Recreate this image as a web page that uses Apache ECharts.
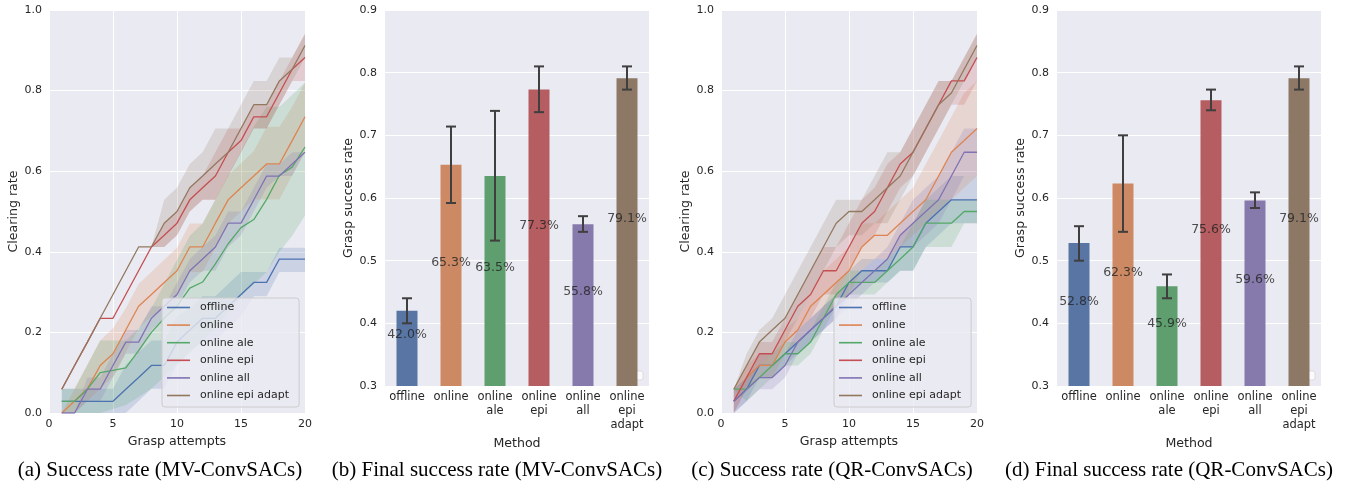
<!DOCTYPE html>
<html>
<head>
<meta charset="utf-8">
<script src="https://cdn.jsdelivr.net/npm/echarts@6/dist/echarts.min.js"></script>
<style>
html, body { margin: 0; padding: 0; background: #fff; }
#main { width: 1351px; height: 487px; }
</style>
</head>
<body>
<div id="main"></div>
<script>
// ---- data ----
var methods = ['offline', 'online', 'online ale', 'online epi', 'online all', 'online epi adapt'];
var barTicks = ['offline', 'online', 'online\nale', 'online\nepi', 'online\nall', 'online\nepi\nadapt'];
var attempts = [1, 2, 3, 4, 5, 6, 7, 8, 9, 10, 11, 12, 13, 14, 15, 16, 17, 18, 19, 20];
var captions = ['(a) Success rate (MV-ConvSACs)', '(b) Final success rate (MV-ConvSACs)',
                '(c) Success rate (QR-ConvSACs)', '(d) Final success rate (QR-ConvSACs)'];

// (a) MV-ConvSACs clearing rate: mean, lower and upper band per method
var mvMean = [
    [0.029, 0.029, 0.029, 0.029, 0.029, 0.059, 0.088, 0.118, 0.118, 0.176, 0.206, 0.235, 0.235, 0.265, 0.294, 0.324, 0.324, 0.382, 0.382, 0.382],
    [0.0, 0.03, 0.06, 0.118, 0.147, 0.206, 0.265, 0.294, 0.324, 0.353, 0.412, 0.412, 0.471, 0.529, 0.559, 0.588, 0.618, 0.618, 0.676, 0.735],
    [0.029, 0.029, 0.059, 0.1, 0.106, 0.112, 0.155, 0.2, 0.235, 0.265, 0.31, 0.325, 0.37, 0.42, 0.46, 0.48, 0.53, 0.59, 0.61, 0.66],
    [0.059, 0.118, 0.176, 0.235, 0.235, 0.294, 0.353, 0.412, 0.441, 0.471, 0.529, 0.559, 0.588, 0.647, 0.676, 0.735, 0.735, 0.794, 0.853, 0.882],
    [0.0, 0.0, 0.059, 0.059, 0.118, 0.176, 0.176, 0.235, 0.265, 0.294, 0.353, 0.382, 0.412, 0.471, 0.471, 0.529, 0.588, 0.588, 0.618, 0.647],
    [0.059, 0.118, 0.176, 0.235, 0.294, 0.353, 0.412, 0.412, 0.471, 0.5, 0.559, 0.588, 0.618, 0.647, 0.706, 0.765, 0.765, 0.824, 0.853, 0.912]
];
var mvLo = [
    [0.0, 0.0, 0.0, 0.0, 0.0, 0.0, 0.03, 0.06, 0.06, 0.12, 0.15, 0.18, 0.18, 0.21, 0.24, 0.29, 0.29, 0.35, 0.35, 0.35],
    [0.0, 0.0, 0.03, 0.06, 0.09, 0.15, 0.21, 0.24, 0.26, 0.29, 0.35, 0.35, 0.41, 0.47, 0.5, 0.53, 0.53, 0.53, 0.59, 0.65],
    [0.0, 0.0, 0.0, 0.0, 0.01, 0.02, 0.04, 0.06, 0.09, 0.12, 0.15, 0.18, 0.21, 0.25, 0.29, 0.32, 0.35, 0.4, 0.44, 0.49],
    [0.059, 0.118, 0.176, 0.235, 0.235, 0.294, 0.353, 0.412, 0.412, 0.441, 0.5, 0.529, 0.529, 0.588, 0.647, 0.706, 0.706, 0.765, 0.824, 0.824],
    [0.0, 0.0, 0.029, 0.029, 0.088, 0.147, 0.147, 0.206, 0.235, 0.265, 0.324, 0.353, 0.353, 0.412, 0.441, 0.5, 0.559, 0.588, 0.588, 0.647],
    [0.059, 0.118, 0.176, 0.235, 0.294, 0.353, 0.412, 0.412, 0.412, 0.441, 0.5, 0.529, 0.529, 0.588, 0.647, 0.706, 0.706, 0.765, 0.824, 0.882]
];
var mvHi = [
    [0.06, 0.06, 0.06, 0.06, 0.06, 0.12, 0.15, 0.18, 0.18, 0.24, 0.26, 0.29, 0.29, 0.32, 0.35, 0.35, 0.35, 0.41, 0.41, 0.41],
    [0.0, 0.06, 0.12, 0.18, 0.21, 0.26, 0.32, 0.35, 0.38, 0.41, 0.47, 0.47, 0.53, 0.59, 0.62, 0.65, 0.71, 0.71, 0.76, 0.82],
    [0.06, 0.06, 0.12, 0.18, 0.18, 0.18, 0.21, 0.26, 0.32, 0.38, 0.44, 0.47, 0.53, 0.59, 0.65, 0.71, 0.76, 0.76, 0.79, 0.82],
    [0.059, 0.118, 0.176, 0.235, 0.235, 0.294, 0.353, 0.412, 0.471, 0.5, 0.559, 0.588, 0.647, 0.706, 0.706, 0.765, 0.765, 0.824, 0.882, 0.941],
    [0.0, 0.0, 0.088, 0.088, 0.147, 0.206, 0.206, 0.265, 0.265, 0.324, 0.382, 0.412, 0.441, 0.5, 0.5, 0.559, 0.618, 0.618, 0.647, 0.647],
    [0.059, 0.118, 0.176, 0.235, 0.294, 0.353, 0.412, 0.412, 0.529, 0.559, 0.618, 0.647, 0.706, 0.706, 0.765, 0.824, 0.824, 0.882, 0.882, 0.941]
];

// (c) QR-ConvSACs clearing rate
var qrMean = [
    [0.029, 0.059, 0.118, 0.118, 0.147, 0.176, 0.206, 0.235, 0.265, 0.324, 0.353, 0.353, 0.353, 0.412, 0.412, 0.471, 0.5, 0.529, 0.529, 0.529],
    [0.029, 0.088, 0.118, 0.118, 0.176, 0.206, 0.265, 0.294, 0.324, 0.353, 0.412, 0.441, 0.441, 0.471, 0.5, 0.529, 0.588, 0.647, 0.676, 0.706],
    [0.059, 0.059, 0.088, 0.118, 0.147, 0.147, 0.176, 0.235, 0.294, 0.324, 0.324, 0.324, 0.353, 0.382, 0.412, 0.471, 0.471, 0.471, 0.5, 0.5],
    [0.029, 0.088, 0.147, 0.147, 0.206, 0.265, 0.294, 0.353, 0.353, 0.412, 0.471, 0.5, 0.559, 0.618, 0.647, 0.706, 0.765, 0.824, 0.824, 0.882],
    [0.029, 0.059, 0.088, 0.088, 0.118, 0.176, 0.206, 0.235, 0.265, 0.294, 0.324, 0.353, 0.382, 0.441, 0.471, 0.5, 0.529, 0.588, 0.647, 0.647],
    [0.059, 0.118, 0.176, 0.206, 0.235, 0.294, 0.353, 0.412, 0.471, 0.5, 0.5, 0.529, 0.559, 0.588, 0.647, 0.706, 0.765, 0.794, 0.853, 0.912]
];
var qrLo = [
    [0.0, 0.029, 0.088, 0.088, 0.118, 0.147, 0.176, 0.206, 0.235, 0.294, 0.324, 0.324, 0.324, 0.353, 0.353, 0.412, 0.441, 0.471, 0.471, 0.471],
    [0.0, 0.059, 0.088, 0.088, 0.147, 0.176, 0.206, 0.235, 0.265, 0.294, 0.353, 0.382, 0.382, 0.412, 0.441, 0.471, 0.5, 0.529, 0.559, 0.588],
    [0.059, 0.029, 0.059, 0.088, 0.118, 0.118, 0.147, 0.206, 0.265, 0.294, 0.294, 0.294, 0.324, 0.353, 0.353, 0.412, 0.412, 0.412, 0.471, 0.471],
    [0.0, 0.059, 0.118, 0.118, 0.176, 0.206, 0.235, 0.294, 0.294, 0.353, 0.412, 0.441, 0.5, 0.559, 0.588, 0.647, 0.706, 0.765, 0.765, 0.824],
    [0.0, 0.029, 0.059, 0.059, 0.088, 0.147, 0.176, 0.206, 0.235, 0.265, 0.294, 0.324, 0.353, 0.412, 0.412, 0.441, 0.471, 0.529, 0.588, 0.588],
    [0.059, 0.088, 0.118, 0.147, 0.176, 0.235, 0.294, 0.353, 0.412, 0.441, 0.441, 0.471, 0.471, 0.529, 0.588, 0.647, 0.706, 0.765, 0.824, 0.882]
];
var qrHi = [
    [0.059, 0.088, 0.147, 0.147, 0.176, 0.206, 0.235, 0.265, 0.294, 0.353, 0.382, 0.382, 0.382, 0.441, 0.471, 0.529, 0.559, 0.588, 0.588, 0.588],
    [0.059, 0.118, 0.147, 0.147, 0.206, 0.235, 0.294, 0.353, 0.382, 0.412, 0.471, 0.471, 0.5, 0.529, 0.559, 0.618, 0.676, 0.735, 0.794, 0.824],
    [0.059, 0.088, 0.118, 0.147, 0.176, 0.176, 0.206, 0.265, 0.324, 0.353, 0.353, 0.353, 0.382, 0.412, 0.471, 0.529, 0.529, 0.529, 0.529, 0.529],
    [0.059, 0.118, 0.176, 0.176, 0.235, 0.294, 0.353, 0.412, 0.412, 0.471, 0.529, 0.559, 0.618, 0.647, 0.706, 0.765, 0.824, 0.824, 0.882, 0.941],
    [0.059, 0.088, 0.118, 0.118, 0.147, 0.206, 0.235, 0.265, 0.294, 0.324, 0.353, 0.382, 0.412, 0.471, 0.529, 0.559, 0.588, 0.647, 0.706, 0.706],
    [0.059, 0.147, 0.206, 0.235, 0.294, 0.353, 0.412, 0.471, 0.529, 0.529, 0.529, 0.588, 0.647, 0.647, 0.706, 0.765, 0.824, 0.824, 0.882, 0.941]
];

// (b) MV-ConvSACs final grasp success rate
var mvFinal = [0.420, 0.653, 0.635, 0.773, 0.558, 0.791];
var mvErrLo = [0.400, 0.592, 0.532, 0.737, 0.546, 0.773];
var mvErrHi = [0.440, 0.714, 0.739, 0.810, 0.571, 0.810];
var mvLabelY = [0.381, 0.497, 0.488, 0.556, 0.450, 0.567];

// (d) QR-ConvSACs final grasp success rate
var qrFinal = [0.528, 0.623, 0.459, 0.756, 0.596, 0.791];
var qrErrLo = [0.500, 0.546, 0.440, 0.740, 0.584, 0.773];
var qrErrHi = [0.555, 0.700, 0.478, 0.773, 0.609, 0.810];
var qrLabelY = [0.435, 0.481, 0.400, 0.549, 0.469, 0.567];

// ---- styles ----
var lineColors = ['#4C72B0', '#DD8452', '#55A868', '#C44E52', '#8172B3', '#937860'];
var barColors = ['#5975A4', '#CC8963', '#5F9E6E', '#B55D60', '#857AAB', '#8D7866'];
var txt = '#262626';
var bg = '#EAEAF2';

var chart = echarts.init(document.getElementById('main'));

function lineAxisX(idx) {
    return {
        type: 'value', gridIndex: idx, min: 0, max: 20, interval: 5,
        name: 'Grasp attempts', nameLocation: 'middle', nameGap: 18,
        nameTextStyle: { color: txt, fontSize: 12.6 },
        axisLine: { show: false }, axisTick: { show: false },
        axisLabel: { color: txt, fontSize: 11, margin: 6 },
        splitLine: { show: true, lineStyle: { color: '#fff', width: 1 } }
    };
}
function lineAxisY(idx) {
    return {
        type: 'value', gridIndex: idx, min: 0, max: 1, interval: 0.2,
        name: 'Clearing rate', nameLocation: 'middle', nameGap: 29,
        nameTextStyle: { color: txt, fontSize: 12.6 },
        axisLine: { show: false }, axisTick: { show: false },
        axisLabel: { color: txt, fontSize: 11, margin: 7, formatter: function (v) { return v.toFixed(1); } },
        splitLine: { show: true, lineStyle: { color: '#fff', width: 1 } }
    };
}
function barAxisX(idx) {
    return {
        type: 'category', gridIndex: idx, data: barTicks,
        name: 'Method', nameLocation: 'middle', nameGap: 46,
        nameTextStyle: { color: txt, fontSize: 12.6 },
        axisLine: { show: false }, axisTick: { show: false },
        axisLabel: { color: txt, fontSize: 11.5, lineHeight: 14, margin: 4, interval: 0 },
        splitLine: { show: false }
    };
}
function barAxisY(idx) {
    return {
        type: 'value', gridIndex: idx, min: 0.3, max: 0.9, interval: 0.1,
        name: 'Grasp success rate', nameLocation: 'middle', nameGap: 29,
        nameTextStyle: { color: txt, fontSize: 12.6 },
        axisLine: { show: false }, axisTick: { show: false },
        axisLabel: { color: txt, fontSize: 11, margin: 8, formatter: function (v) { return v.toFixed(1); } },
        splitLine: { show: true, lineStyle: { color: '#fff', width: 1 } }
    };
}

// shaded band drawn as one polygon through the axis scales
function bandRenderer(lo, hi, color) {
    return function (params, api) {
        if (params.dataIndex !== 0) return null;
        var top = [], bot = [];
        for (var k = 0; k < attempts.length; k++) {
            top.push(api.coord([attempts[k], hi[k]]));
            bot.push(api.coord([attempts[k], lo[k]]));
        }
        return {
            type: 'polygon', shape: { points: top.concat(bot.reverse()) },
            style: { fill: color, opacity: 0.2 }
        };
    };
}

function lineSeries(idx, means, los, his) {
    var out = [];
    for (var i = 0; i < methods.length; i++) {
        var c = lineColors[i];
        out.push({
            type: 'custom', xAxisIndex: idx, yAxisIndex: idx, z: 2, silent: true, clip: true,
            data: attempts.map(function (x, j) { return [x, los[i][j], his[i][j]]; }),
            encode: { x: 0, y: [1, 2] },
            renderItem: bandRenderer(los[i], his[i], c),
            animation: false
        });
        out.push({
            type: 'line', name: methods[i], xAxisIndex: idx, yAxisIndex: idx,
            data: attempts.map(function (x, j) { return [x, means[i][j]]; }),
            symbol: 'none', lineStyle: { color: c, width: 1.3 }, itemStyle: { color: c },
            z: 3, animation: false
        });
    }
    return out;
}

function barSeries(idx, vals, errLo, errHi, labelY) {
    return [{
        type: 'bar', xAxisIndex: idx, yAxisIndex: idx, barWidth: 21,
        data: vals.map(function (v, i) { return { value: v, itemStyle: { color: barColors[i] } }; }),
        animation: false
    }, {
        type: 'custom', xAxisIndex: idx, yAxisIndex: idx, z: 5,
        data: vals.map(function (v, i) { return [i, errLo[i], errHi[i]]; }),
        encode: { x: 0, y: [1, 2] },
        renderItem: function (params, api) {
            var lo = api.coord([api.value(0), api.value(1)]);
            var hi = api.coord([api.value(0), api.value(2)]);
            var w = 5;
            var st = { stroke: '#3f3f3f', lineWidth: 2 };
            return {
                type: 'group', children: [
                    { type: 'line', shape: { x1: lo[0], y1: lo[1], x2: hi[0], y2: hi[1] }, style: st },
                    { type: 'line', shape: { x1: lo[0] - w, y1: lo[1], x2: lo[0] + w, y2: lo[1] }, style: st },
                    { type: 'line', shape: { x1: hi[0] - w, y1: hi[1], x2: hi[0] + w, y2: hi[1] }, style: st }
                ]
            };
        },
        animation: false
    }, {
        type: 'scatter', xAxisIndex: idx, yAxisIndex: idx, z: 6,
        symbolSize: 1, itemStyle: { color: 'rgba(0,0,0,0)' },
        data: labelY.map(function (y, i) { return [i, y]; }),
        label: {
            show: true, position: 'inside', color: '#222', fontSize: 12.5,
            formatter: function (p) { return (vals[p.dataIndex] * 100).toFixed(1) + '%'; }
        },
        animation: false
    }];
}

function legendFor(left) {
    return {
        orient: 'vertical', left: left, top: 298,
        data: methods.map(function (m) { return { name: m, icon: 'rect' }; }),
        itemWidth: 23, itemHeight: 1.6, itemGap: 4.6,
        textStyle: { color: txt, fontSize: 11, lineHeight: 13, padding: [0, 0, 0, 5] },
        backgroundColor: 'rgba(234,234,242,0.8)', borderColor: '#cccccc', borderWidth: 1,
        borderRadius: 3, padding: [3, 10, 5, 5], selectedMode: false
    };
}

var grids = [
    { left: 49, top: 10, width: 256, height: 403 },
    { left: 385, top: 10, width: 264, height: 376 },
    { left: 721, top: 10, width: 256, height: 403 },
    { left: 1057, top: 10, width: 264, height: 376 }
].map(function (g) {
    g.show = true; g.backgroundColor = bg; g.borderWidth = 0; g.containLabel = false;
    return g;
});

var captionX = [160, 497, 832, 1169];

var option = {
    backgroundColor: '#ffffff',
    animation: false,
    textStyle: { fontFamily: 'DejaVu Sans' },
    grid: grids,
    xAxis: [lineAxisX(0), barAxisX(1), lineAxisX(2), barAxisX(3)],
    yAxis: [lineAxisY(0), barAxisY(1), lineAxisY(2), barAxisY(3)],
    legend: [legendFor(162), legendFor(834)],
    series: [].concat(
        lineSeries(0, mvMean, mvLo, mvHi),
        barSeries(1, mvFinal, mvErrLo, mvErrHi, mvLabelY),
        lineSeries(2, qrMean, qrLo, qrHi),
        barSeries(3, qrFinal, qrErrLo, qrErrHi, qrLabelY)
    ),
    graphic: captions.map(function (t, i) {
        return {
            type: 'text', x: captionX[i], y: 470,
            style: { text: t, font: '21px "Liberation Serif"', fill: '#000', align: 'center', verticalAlign: 'middle' }
        };
    }).concat([635, 1307].map(function (x) {
        // empty legend boxes left by the plotting tool in the bar panels
        return {
            type: 'rect', shape: { x: x, y: 371, width: 8, height: 9, r: 2 },
            style: { fill: 'rgba(255,255,255,0.8)', stroke: '#dddddd', lineWidth: 1 }
        };
    }))
};

chart.setOption(option);
</script>
</body>
</html>
